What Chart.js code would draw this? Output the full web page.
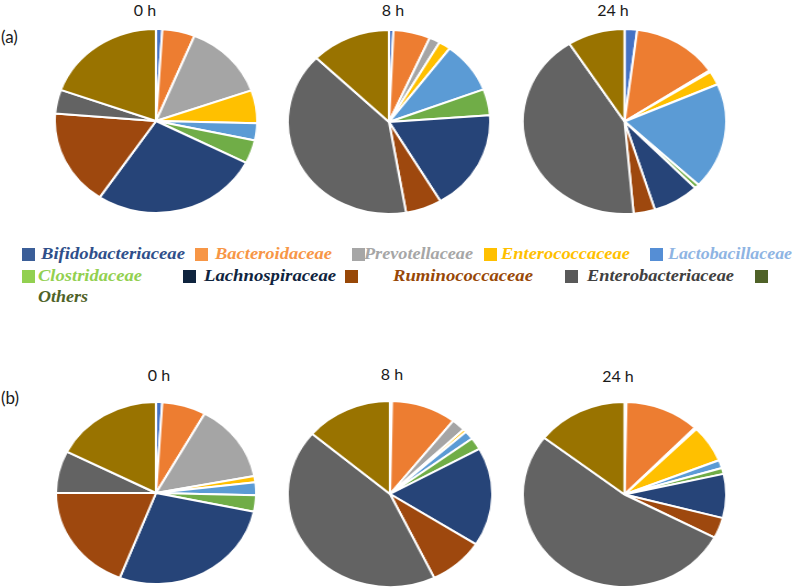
<!DOCTYPE html>
<html>
<head>
<meta charset="utf-8">
<script src="https://cdn.jsdelivr.net/npm/chart.js@4"></script>
<style>
  html, body { margin: 0; padding: 0; background: #ffffff; }
  #stage { position: relative; width: 797px; height: 588px; overflow: hidden; background: #fff; }
  .pie { position: absolute; }
  .ttl { position: absolute; font-family: Lato, "Noto Sans", sans-serif; font-size: 16px; color: #1a1a1a; white-space: nowrap; transform: translateX(-50%); line-height: 16px; }
  .panel { position: absolute; font-family: Lato, "Noto Sans", sans-serif; font-size: 17px; color: #1a1a1a; line-height: 17px; }
  .lg-sq { position: absolute; width: 13px; height: 13px; }
  .lg-tx { position: absolute; font-family: "Liberation Serif", "DejaVu Serif", serif; font-style: italic; font-weight: bold; font-size: 17px; line-height: 17px; white-space: nowrap; transform-origin: left center; }
</style>
</head>
<body>
<div id="stage"></div>
<script>
// ---- data ----
const categories = ['Bifidobacteriaceae','Bacteroidaceae','Prevotellaceae','Enterococcaceae','Lactobacillaceae','Clostridaceae','Lachnospiraceae','Ruminococcaceae','Enterobacteriaceae','Others'];
const timeLabels = ['0 h','8 h','24 h'];
const panelLabels = ['(a)','(b)'];
// panel (a)
const a0h  = [1.0, 5.2, 13.4, 5.8, 3.0, 4.1, 26.9, 16.9, 4.2, 19.5];
const a8h  = [0.7, 5.9, 1.75, 1.9, 9.0, 4.6, 17.7, 5.8, 40.0, 12.75];
const a24h = [2.0, 13.7, 0.3, 2.4, 18.6, 0.75, 7.4, 3.4, 42.3, 9.1];
// panel (b)
const b0h  = [1.0, 7.1, 13.9, 1.1, 2.3, 2.9, 27.6, 19.1, 7.5, 17.5];
const b8h  = [0.3, 10.3, 2.2, 0.55, 1.5, 2.1, 17.2, 8.8, 43.4, 13.8];
const b24h = [0.3, 11.9, 0.3, 6.5, 1.4, 1.05, 7.7, 3.6, 52.9, 14.5];

// ---- styles ----
const sliceColors = ['#4472C4','#ED7D31','#A5A5A5','#FFC000','#5B9BD5','#70AD47','#264478','#9E480E','#636363','#997300'];
const legendSquare = ['#3B5E98','#F79646','#A6A6A6','#FFC000','#558ED5','#92D050','#0F243E','#984807','#595959','#4F6228'];
const legendText   = ['#2F4F8A','#F79646','#A6A6A6','#FFC000','#8EB4E3','#92D050','#0F243E','#984807','#404040','#4F6228'];

const stage = document.getElementById('stage');

// pie layout: [data, cx, cy, ry, titleX, titleY]
const pies = [
  [a0h, 155.5, 121, 92, 145, 2],
  [a8h, 389, 122, 92, 393, 2],
  [a24h, 624, 121.5, 92.5, 613, 2],
  [b0h, 156, 493, 91, 159, 367],
  [b8h, 390, 493.5, 93, 392, 366],
  [b24h, 624, 494.5, 92.5, 618, 368]
];
const stretchX = 1.10;

pies.forEach((p, i) => {
  const [vals, cx, cy, r, tx, ty] = p;
  const size = Math.round(2 * r + 2);
  const wrap = document.createElement('div');
  wrap.className = 'pie';
  wrap.style.left = (cx - size / 2) + 'px';
  wrap.style.top = (cy - size / 2) + 'px';
  wrap.style.width = size + 'px';
  wrap.style.height = size + 'px';
  wrap.style.transform = 'scaleX(' + stretchX + ')';
  wrap.style.transformOrigin = 'center center';
  const cv = document.createElement('canvas');
  cv.width = size; cv.height = size;
  wrap.appendChild(cv);
  stage.appendChild(wrap);
  new Chart(cv.getContext('2d'), {
    type: 'pie',
    data: {
      labels: categories,
      datasets: [{ data: vals, backgroundColor: sliceColors, borderColor: '#ffffff', borderWidth: 2 }]
    },
    options: {
      responsive: false,
      animation: false,
      layout: { padding: 0 },
      plugins: { legend: { display: false }, tooltip: { enabled: false } }
    }
  });
  const t = document.createElement('div');
  t.className = 'ttl';
  t.textContent = timeLabels[i % 3];
  t.style.left = tx + 'px';
  t.style.top = ty + 'px';
  stage.appendChild(t);
});

// panel labels
[[panelLabels[0], 1, 28], [panelLabels[1], 1, 389]].forEach(([txt, x, y]) => {
  const d = document.createElement('div');
  d.className = 'panel';
  d.textContent = txt;
  d.style.left = x + 'px'; d.style.top = y + 'px';
  stage.appendChild(d);
});

// legend layout: [squareX, squareY, textX, textY, targetWidth]
const legendLayout = [
  [22, 248, 41, 245, 144],
  [195, 248, 215, 245, 117],
  [352, 248, 364, 245, 109],
  [484, 248, 501, 245, 129],
  [650, 248, 668, 245, 124],
  [22, 270, 38, 267, 104],
  [183, 270, 204, 267, 132],
  [345, 270, 393, 267, 140],
  [565, 270, 587, 267, 147],
  [755, 270, 38, 288, 50]
];
categories.forEach((name, i) => {
  const [sx, sy, tx, ty, tw] = legendLayout[i];
  const sq = document.createElement('div');
  sq.className = 'lg-sq';
  sq.style.left = sx + 'px'; sq.style.top = sy + 'px';
  sq.style.background = legendSquare[i];
  stage.appendChild(sq);
  const tt = document.createElement('div');
  tt.className = 'lg-tx';
  tt.textContent = name;
  tt.style.left = tx + 'px'; tt.style.top = ty + 'px';
  tt.style.color = legendText[i];
  stage.appendChild(tt);
  const w = tt.getBoundingClientRect().width;
  if (w > 0) tt.style.transform = 'scaleX(' + (tw / w).toFixed(3) + ')';
});
</script>
</body>
</html>
